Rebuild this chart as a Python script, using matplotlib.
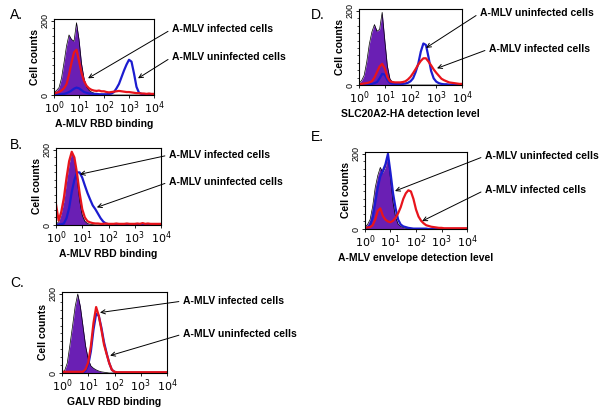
import numpy as np
import matplotlib.pyplot as plt
from matplotlib.ticker import MultipleLocator, NullFormatter

plt.rcParams['font.family'] = ['Liberation Sans', 'DejaVu Sans']

# histogram bin positions (log10 of fluorescence), shared by all panels
log_bins = np.round(np.arange(0, 4.01, 0.1), 1)

# Panel A: A-MLV RBD binding
a_ctrl = [6, 12, 20, 45, 87, 132, 162, 150, 145, 195, 150, 85, 45, 22, 13, 8, 5, 3, 2, 2,
          1, 1, 1, 0, 0, 0, 0, 0, 0, 0, 0, 0, 0, 0, 0, 0, 0, 0, 0, 0, 0]
a_inf = [4, 6, 8, 12, 18, 29, 55, 87, 115, 122, 92, 60, 38, 25, 18, 14, 12, 11, 12, 10,
         10, 8, 7, 8, 9, 10, 11, 10, 9, 8, 8, 7, 6, 5, 5, 4, 4, 3, 4, 3, 3]
a_uninf = [1, 1, 2, 2, 3, 5, 8, 12, 17, 20, 18, 13, 8, 6, 4, 4, 3, 3, 2, 2,
           2, 2, 3, 4, 8, 18, 30, 48, 66, 82, 95, 90, 58, 22, 6, 3, 2, 2, 1, 1, 1]

# Panel B: A-MLV RBD binding
b_ctrl = [2, 8, 30, 63, 115, 162, 195, 178, 125, 65, 26, 10, 4, 2, 1, 0, 0, 0, 0, 0,
          0, 0, 0, 0, 0, 0, 0, 0, 0, 0, 0, 0, 0, 0, 0, 0, 0, 0, 0, 0, 0]
b_inf = [55, 12, 35, 72, 125, 170, 195, 180, 138, 85, 42, 20, 10, 7, 5, 4, 4, 3, 3, 4,
         3, 3, 3, 4, 3, 3, 3, 4, 3, 3, 3, 4, 3, 5, 3, 4, 3, 3, 3, 3, 3]
b_uninf = [1, 1, 2, 4, 18, 45, 88, 120, 140, 140, 126, 105, 85, 68, 52, 42, 30, 18, 9, 4,
           2, 1, 1, 1, 1, 0, 0, 0, 0, 0, 0, 0, 0, 0, 0, 0, 0, 0, 0, 0, 0]

# Panel C: GALV RBD binding
c_ctrl = [2, 6, 25, 70, 118, 168, 200, 168, 118, 68, 35, 18, 12, 8, 5, 3, 2, 1, 0, 0,
          0, 0, 0, 0, 0, 0, 0, 0, 0, 0, 0, 0, 0, 0, 0, 0, 0, 0, 0, 0, 0]
c_inf = [3, 3, 3, 3, 3, 3, 3, 3, 3, 10, 27, 68, 127, 167, 145, 110, 72, 48, 25, 8,
         3, 2, 2, 2, 2, 2, 2, 2, 2, 2, 2, 2, 2, 2, 2, 2, 2, 2, 2, 2, 2]
c_uninf = [1, 1, 1, 1, 1, 1, 1, 1, 1, 6, 20, 55, 110, 150, 145, 115, 78, 50, 25, 8,
           3, 1, 1, 1, 1, 1, 1, 1, 1, 1, 1, 1, 1, 1, 1, 1, 1, 1, 1, 1, 1]

# Panel D: SLC20A2-HA detection level
d_ctrl = [4, 12, 26, 62, 110, 143, 163, 145, 150, 196, 122, 52, 17, 7, 4, 2, 1, 0, 0, 0,
          0, 0, 0, 0, 0, 0, 0, 0, 0, 0, 0, 0, 0, 0, 0, 0, 0, 0, 0, 0, 0]
d_uninf = [1, 1, 1, 2, 2, 3, 5, 8, 18, 30, 28, 14, 6, 4, 3, 3, 3, 3, 4, 6,
           10, 18, 35, 57, 90, 112, 108, 75, 38, 18, 9, 5, 3, 2, 2, 1, 1, 1, 1, 1, 1]
d_inf = [2, 3, 4, 5, 7, 10, 20, 35, 50, 57, 45, 22, 10, 8, 7, 7, 7, 8, 10, 15,
         22, 32, 43, 55, 65, 72, 72, 63, 53, 42, 33, 25, 17, 13, 10, 7, 6, 5, 4, 3, 3]

# Panel E: A-MLV envelope detection level
e_ctrl = [5, 12, 25, 60, 110, 142, 164, 150, 165, 197, 133, 71, 31, 13, 7, 4, 2, 1, 0, 0,
          0, 0, 0, 0, 0, 0, 0, 0, 0, 0, 0, 0, 0, 0, 0, 0, 0, 0, 0, 0, 0]
e_uninf = [2, 4, 10, 30, 70, 110, 140, 155, 172, 200, 150, 95, 55, 25, 12, 7, 5, 3, 2, 1,
           1, 1, 1, 1, 1, 0, 0, 0, 0, 0, 0, 0, 0, 0, 0, 0, 0, 0, 0, 0, 0]
e_inf = [3, 4, 5, 10, 25, 48, 55, 35, 25, 20, 18, 22, 30, 42, 58, 80, 95, 103, 100, 80,
         52, 33, 22, 15, 10, 8, 6, 5, 4, 3, 3, 2, 2, 2, 2, 2, 2, 2, 2, 2, 2]

PURPLE = "#6a1fb4"
BLUE = "#1c1cd0"
RED = "#e8141c"

W, H = 600, 409
fig = plt.figure(figsize=(6, 4.09), dpi=100)


def px_axes(l, r, t, b):
    return fig.add_axes([l / W, 1 - b / H, (r - l) / W, (b - t) / H])


def fig_xy(x, y):
    return (x / W, 1 - y / H)


def histo(ax, ctrl, first, second, first_color, second_color, xlabel):
    x = 10 ** log_bins
    ax.fill_between(x, 0, ctrl, color=PURPLE, lw=0)
    ax.plot(x, ctrl, color="black", lw=0.5)
    ax.plot(x, first, color=first_color, lw=1.6)
    ax.plot(x, second, color=second_color, lw=1.6)
    ax.set_xscale("log")
    ax.set_xlim(1, 1e4)
    ax.set_ylim(0, 205)
    ax.set_yticks([0, 200])
    ax.set_yticklabels(["0", "200"], rotation=90, va="center", fontsize=6.5)
    ax.yaxis.set_minor_locator(MultipleLocator(20))
    ax.set_xticks([1, 10, 100, 1000, 10000])
    ax.set_xticklabels([r"$10^0$", r"$10^1$", r"$10^2$", r"$10^3$", r"$10^4$"], fontsize=8)
    ax.xaxis.set_minor_formatter(NullFormatter())
    ax.tick_params(which="major", length=2.5, width=0.6, pad=1)
    ax.tick_params(which="minor", length=1.5, width=0.5)
    for s in ax.spines.values():
        s.set_linewidth(0.8)
    ax.set_ylabel("Cell counts", fontsize=7.5, fontweight="bold", labelpad=0)
    ax.set_xlabel(xlabel, fontsize=7.5, fontweight="bold", labelpad=2)


def arrow_label(ax, text, tip, txt_px):
    ax.annotate(text, xy=tip, xycoords="data",
                xytext=fig_xy(*txt_px), textcoords="figure fraction",
                ha="left", va="center", fontsize=7.5, fontweight="bold",
                arrowprops=dict(arrowstyle="->", color="black", lw=0.7,
                                relpos=(0, 0.5), shrinkA=1, shrinkB=0))


# A
ax = px_axes(54, 154, 19, 95)
histo(ax, a_ctrl, a_uninf, a_inf, BLUE, RED, "A-MLV RBD binding")
arrow_label(ax, "A-MLV infected cells", (23, 45), (172, 29))
arrow_label(ax, "A-MLV uninfected cells", (2290, 45), (172, 57))

# B
ax = px_axes(56, 161, 148, 225)
histo(ax, b_ctrl, b_uninf, b_inf, BLUE, RED, "A-MLV RBD binding")
arrow_label(ax, "A-MLV infected cells", (8.1, 135), (169, 155))
arrow_label(ax, "A-MLV uninfected cells", (36, 47), (169, 182))

# C
ax = px_axes(62, 167, 292, 373)
histo(ax, c_ctrl, c_uninf, c_inf, BLUE, RED, "GALV RBD binding")
arrow_label(ax, "A-MLV infected cells", (28, 153), (183, 301))
arrow_label(ax, "A-MLV uninfected cells", (68, 44), (183, 334))

# D
ax = px_axes(359, 462, 9, 85)
histo(ax, d_ctrl, d_uninf, d_inf, BLUE, RED, "SLC20A2-HA detection level")
arrow_label(ax, "A-MLV uninfected cells", (400, 100), (480, 13))
arrow_label(ax, "A-MLV infected cells", (1070, 45), (489, 49))

# E
ax = px_axes(365, 467, 152, 229)
histo(ax, e_ctrl, e_uninf, e_inf, BLUE, RED, "A-MLV envelope detection level")
arrow_label(ax, "A-MLV uninfected cells", (15, 101), (485, 156))
arrow_label(ax, "A-MLV infected cells", (174, 21), (485, 190))

for letter, pos in [("A.", (10, 15)), ("B.", (10, 145)), ("C.", (10, 283)),
                    ("D.", (311, 15)), ("E.", (311, 137))]:
    fig.text(*fig_xy(*pos), letter, fontsize=10, ha="left", va="center")

fig.savefig("out.png", dpi=100)
